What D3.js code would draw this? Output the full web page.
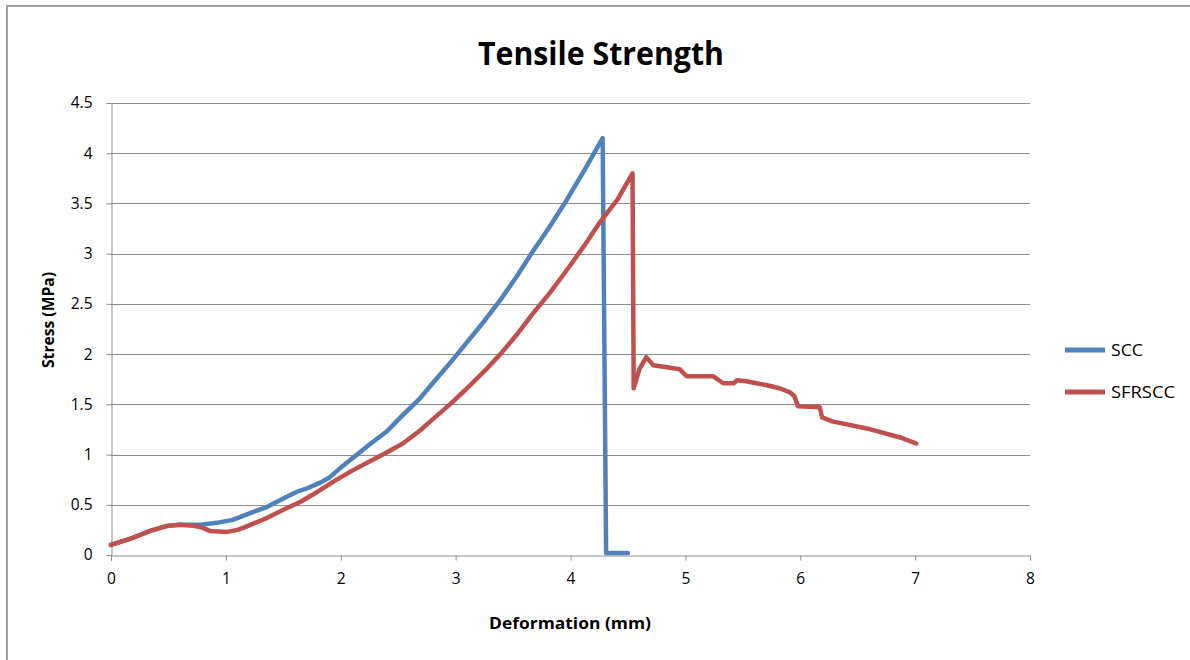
<!DOCTYPE html>
<html>
<head>
<meta charset="utf-8">
<script src="https://cdn.jsdelivr.net/npm/d3@7"></script>
<style>
  html, body { margin: 0; padding: 0; background: #fff; }
  svg { display: block; }
  text { font-family: "Open Sans", "Liberation Sans", sans-serif; fill: #000; }
</style>
</head>
<body>
<svg id="chart" width="1190" height="660"></svg>
<script>
// ---- Data ----
const title = "Tensile Strength";
const xTitle = "Deformation (mm)";
const yTitle = "Stress (MPa)";
const seriesNames = ["SCC", "SFRSCC"];
const xTicks = [0, 1, 2, 3, 4, 5, 6, 7, 8];
const yTicks = [0, 0.5, 1, 1.5, 2, 2.5, 3, 3.5, 4, 4.5];

const sccX = [0, 0.19, 0.34, 0.49, 0.6, 0.77, 0.92, 1.06, 1.24, 1.36, 1.53, 1.62, 1.70, 1.82, 1.9, 2.0, 2.11, 2.25, 2.4, 2.52, 2.69, 2.8, 2.95, 3.1, 3.25, 3.39, 3.53, 3.67, 3.82, 3.97, 4.12, 4.28, 4.31, 4.5];
const sccY = [0.1, 0.17, 0.24, 0.29, 0.3, 0.3, 0.32, 0.35, 0.43, 0.48, 0.58, 0.63, 0.66, 0.72, 0.77, 0.87, 0.97, 1.1, 1.23, 1.37, 1.56, 1.71, 1.91, 2.12, 2.33, 2.54, 2.77, 3.02, 3.27, 3.54, 3.83, 4.15, 0.02, 0.02];

const sfrX = [0, 0.19, 0.34, 0.49, 0.6, 0.72, 0.8, 0.86, 1.01, 1.1, 1.15, 1.36, 1.5, 1.65, 1.8, 1.95, 2.1, 2.25, 2.4, 2.54, 2.69, 2.8, 2.95, 3.1, 3.25, 3.39, 3.53, 3.67, 3.82, 3.97, 4.12, 4.26, 4.41, 4.54, 4.55, 4.6, 4.66, 4.72, 4.84, 4.95, 5.01, 5.24, 5.33, 5.42, 5.45, 5.53, 5.71, 5.82, 5.91, 5.95, 5.98, 6.17, 6.19, 6.28, 6.58, 6.87, 7.01];
const sfrY = [0.1, 0.17, 0.24, 0.29, 0.3, 0.29, 0.27, 0.24, 0.23, 0.25, 0.27, 0.37, 0.45, 0.53, 0.63, 0.74, 0.84, 0.93, 1.02, 1.11, 1.24, 1.35, 1.5, 1.66, 1.83, 2.0, 2.19, 2.4, 2.61, 2.84, 3.08, 3.32, 3.54, 3.80, 1.66, 1.85, 1.97, 1.89, 1.87, 1.85, 1.78, 1.78, 1.71, 1.71, 1.74, 1.73, 1.69, 1.66, 1.62, 1.58, 1.48, 1.47, 1.37, 1.33, 1.26, 1.17, 1.11];

const colors = ["#4F81BD", "#C0504D"];

// ---- Chart ----
const svg = d3.select("#chart");
const x = d3.scaleLinear().domain([0, 8]).range([111, 1030]);
const y = d3.scaleLinear().domain([0, 4.5]).range([555, 103]);

// outer frame
svg.append("path")
  .attr("d", "M7,700 L7,6 L1200,6")
  .attr("fill", "none").attr("stroke", "#a0a0a0").attr("stroke-width", 2);

// gridlines
svg.append("g").selectAll("line").data(yTicks.filter(d => d > 0)).join("line")
  .attr("x1", x(0)).attr("x2", x(8))
  .attr("y1", d => Math.round(y(d)) + 0.5).attr("y2", d => Math.round(y(d)) + 0.5)
  .attr("stroke", "#8c8c8c").attr("stroke-width", 1);

// axes
const xAxis = d3.axisBottom(x).tickValues(xTicks).tickSize(5).tickPadding(12).tickFormat(d3.format("d"));
const gx = svg.append("g").attr("transform", `translate(0,${Math.round(y(0)) + 0.5})`).call(xAxis);
const yAxis = d3.axisLeft(y).tickValues(yTicks).tickSize(5).tickPadding(14).tickFormat(d => String(d));
const gy = svg.append("g").attr("transform", `translate(${Math.round(x(0)) + 0.5},0)`).call(yAxis);
[gx, gy].forEach(g => {
  g.select(".domain").attr("stroke", "#8c8c8c");
  g.selectAll(".tick line").attr("stroke", "#8c8c8c");
  g.selectAll(".tick text").attr("font-size", 15.5).attr("fill", "#000")
    .style("font-family", "'Open Sans', sans-serif");
});

// lines
const line = d3.line().x(d => x(d[0])).y(d => y(d[1]));
const series = [
  d3.zip(sccX, sccY),
  d3.zip(sfrX, sfrY)
];
svg.append("g").selectAll("path").data(series).join("path")
  .attr("d", line)
  .attr("fill", "none")
  .attr("stroke", (d, i) => colors[i])
  .attr("stroke-width", 4.5)
  .attr("stroke-linejoin", "round")
  .attr("stroke-linecap", "round");

// title
svg.append("text")
  .attr("x", 601).attr("y", 65)
  .attr("text-anchor", "middle")
  .attr("font-size", 33).attr("font-weight", "bold")
  .attr("textLength", 246).attr("lengthAdjust", "spacingAndGlyphs")
  .text(title);

// axis titles
svg.append("text")
  .attr("x", 570).attr("y", 629)
  .attr("text-anchor", "middle")
  .attr("font-size", 16).attr("font-weight", "bold")
  .attr("textLength", 162).attr("lengthAdjust", "spacingAndGlyphs")
  .text(xTitle);

svg.append("text")
  .attr("transform", "translate(54,320) rotate(-90)")
  .attr("text-anchor", "middle")
  .attr("font-size", 16).attr("font-weight", "bold")
  .attr("textLength", 96).attr("lengthAdjust", "spacingAndGlyphs")
  .text(yTitle);

// legend
const legendY = [350, 392];
const lg = svg.append("g").selectAll("g").data(seriesNames).join("g");
lg.append("line")
  .attr("x1", 1065).attr("x2", 1105)
  .attr("y1", (d, i) => legendY[i]).attr("y2", (d, i) => legendY[i])
  .attr("stroke", (d, i) => colors[i]).attr("stroke-width", 5);
lg.append("text")
  .attr("x", 1111).attr("y", (d, i) => legendY[i] + 6)
  .attr("font-size", 16)
  .attr("textLength", (d, i) => i === 0 ? 32 : 64).attr("lengthAdjust", "spacingAndGlyphs")
  .text(d => d);
</script>
</body>
</html>
